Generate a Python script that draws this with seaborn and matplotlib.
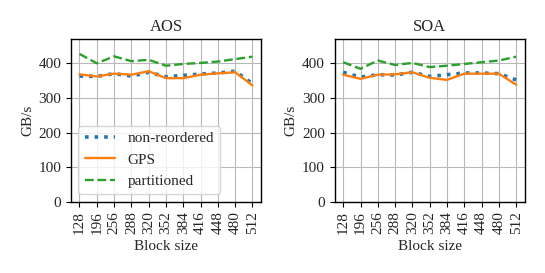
import pandas as pd
import matplotlib
matplotlib.use('Agg')
import matplotlib.pyplot as plt
import seaborn as sns

block_sizes = ['128', '196', '256', '288', '320', '352', '384', '416', '448', '480', '512']

aos_non_reordered = [363, 362, 370, 363, 374, 361, 365, 369, 372, 377, 341]
aos_gps = [368, 362, 370, 367, 377, 357, 357, 367, 371, 374, 336]
aos_partitioned = [427, 400, 420, 406, 410, 393, 398, 401, 405, 412, 419]

soa_non_reordered = [374, 360, 367, 366, 374, 362, 367, 372, 372, 370, 352]
soa_gps = [367, 355, 367, 368, 374, 358, 352, 370, 370, 370, 338]
soa_partitioned = [403, 384, 408, 395, 401, 389, 393, 398, 403, 408, 419]

sns.set_style('ticks')
plt.rcParams['font.family'] = ['Liberation Serif', 'DejaVu Serif']

fig, axes = plt.subplots(1, 2, figsize=(5.45, 2.73), dpi=100)

styles = [('non-reordered', 'tab:blue', ':', 2.6),
          ('GPS', 'tab:orange', '-', 1.7),
          ('partitioned', 'tab:green', '--', 1.7)]

panels = [('AOS', [aos_non_reordered, aos_gps, aos_partitioned]),
          ('SOA', [soa_non_reordered, soa_gps, soa_partitioned])]

for ax, (title, series) in zip(axes, panels):
    for (label, color, ls, lw), values in zip(styles, series):
        df = pd.DataFrame({'x': range(len(block_sizes)), 'y': values})
        sns.lineplot(data=df, x='x', y='y', ax=ax, color=color, linestyle=ls,
                     linewidth=lw, label=label, legend=False)
    ax.set_title(title, fontsize=12)
    ax.set_ylim(0, 470)
    ax.set_yticks([0, 100, 200, 300, 400])
    ax.set_xticks(range(len(block_sizes)))
    ax.set_xticklabels(block_sizes, rotation=90)
    ax.tick_params(labelsize=11, direction='out', color='black')
    ax.grid(True, color='#b8b8b8', linewidth=0.8)
    ax.set_axisbelow(True)
    ax.set_xlabel('Block size', fontsize=11)
    ax.set_ylabel('GB/s', fontsize=11, labelpad=3)
    for sp in ax.spines.values():
        sp.set_color('black')
        sp.set_linewidth(1.0)

axes[0].legend(loc='lower left', fontsize=11, frameon=True, handlelength=2.0)

fig.subplots_adjust(left=0.13, right=0.963, top=0.857, bottom=0.261, wspace=0.386)
fig.savefig('out.png', dpi=100)
